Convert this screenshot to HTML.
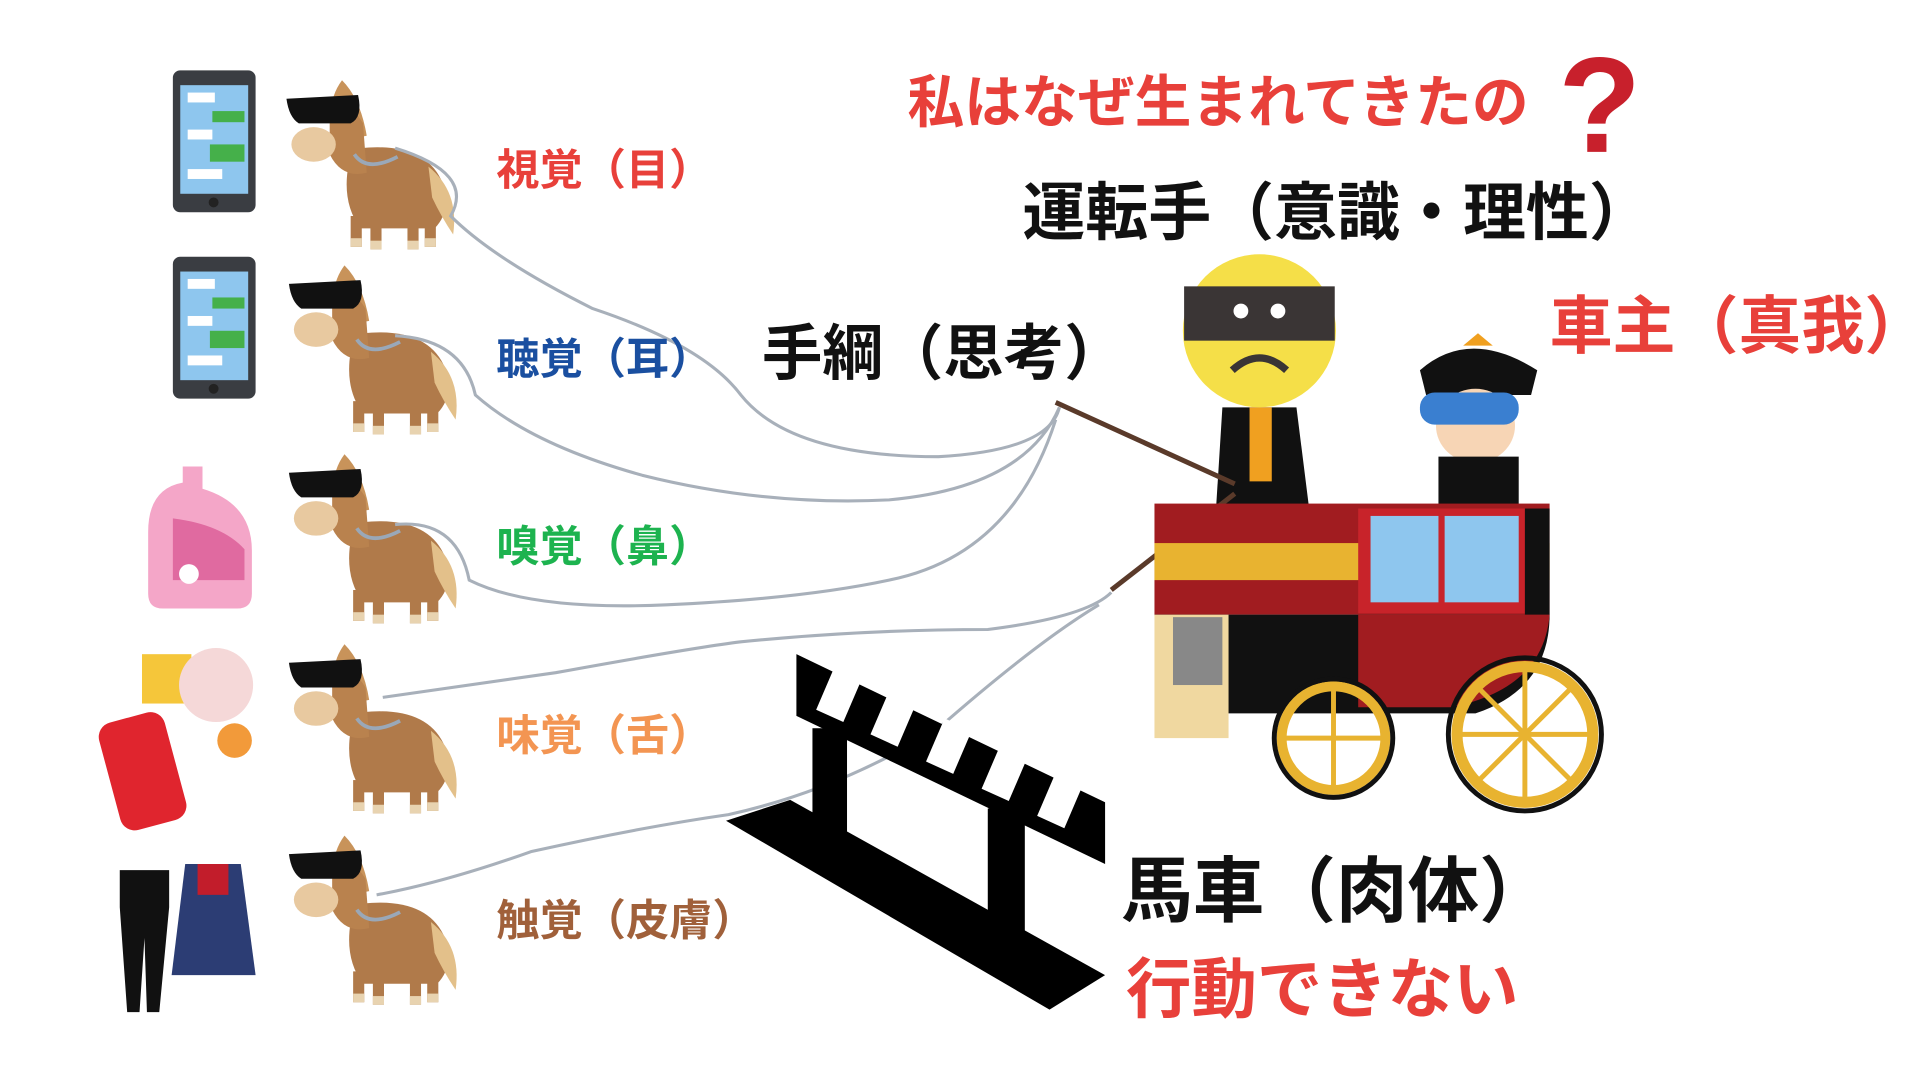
<!DOCTYPE html>
<html><head><meta charset="utf-8"><style>
html,body{margin:0;padding:0;background:#fff;width:1920px;height:1080px;overflow:hidden}
svg{display:block}
text{font-family:"Liberation Sans","Noto Sans CJK JP",sans-serif;font-weight:bold}
</style></head><body>
<svg width="1920" height="1080" viewBox="0 0 1555 875" preserveAspectRatio="none" xmlns="http://www.w3.org/2000/svg">
<defs>
<g id="horse">
 <path d="M40 50 Q30 20 45 0 Q60 15 65 45 Z" fill="#c8935a"/>
 <path d="M60 55 Q110 50 125 80 Q135 105 120 120 L60 120 Q45 100 50 70 Z" fill="#b07a4a"/>
 <path d="M115 70 Q140 90 135 125 Q125 110 118 95Z" fill="#e3c08a"/>
 <rect x="52" y="110" width="9" height="25" fill="#b07a4a"/><rect x="68" y="112" width="9" height="25" fill="#b07a4a"/>
 <rect x="98" y="112" width="9" height="25" fill="#b07a4a"/><rect x="112" y="110" width="9" height="25" fill="#b07a4a"/>
 <rect x="52" y="128" width="9" height="7" fill="#e8d3b0"/><rect x="68" y="130" width="9" height="7" fill="#e8d3b0"/>
 <rect x="98" y="130" width="9" height="7" fill="#e8d3b0"/><rect x="112" y="128" width="9" height="7" fill="#e8d3b0"/>
 <path d="M35 20 Q50 15 62 35 L65 75 Q45 80 35 60 Z" fill="#b9824e"/>
 <ellipse cx="22" cy="52" rx="18" ry="14" fill="#e8c9a0"/>
 <path d="M0 15 L58 12 Q62 30 52 35 L10 35 Q2 30 0 15Z" fill="#111"/>
 <path d="M55 60 Q65 75 90 62" fill="none" stroke="#9aa8b8" stroke-width="3"/>
</g>
<g id="phone">
 <rect x="0" y="0" width="67" height="115" rx="6" fill="#3a3d42"/>
 <rect x="6" y="12" width="55" height="88" fill="#8ec6ee"/>
 <rect x="12" y="18" width="22" height="8" fill="#fff"/><rect x="32" y="33" width="26" height="9" fill="#45b04a"/>
 <rect x="12" y="48" width="20" height="8" fill="#fff"/><rect x="30" y="60" width="28" height="14" fill="#45b04a"/>
 <rect x="12" y="80" width="28" height="8" fill="#fff"/>
 <circle cx="33" cy="107" r="4" fill="#222"/>
</g>
</defs>

<use href="#phone" x="140" y="57"/>
<use href="#phone" x="140" y="208"/>
<path d="M148 378 h16 v18 q40 12 40 50 v35 q0 12 -12 12 h-60 q-12 0 -12 -12 v-50 q0 -35 28 -40z" fill="#f4a6c8"/>
<path d="M140 420 q40 5 58 25 v25 h-58z" fill="#e06aa0"/><circle cx="153" cy="465" r="8" fill="#fff"/>
<rect x="115" y="530" width="40" height="40" fill="#f5c63a"/><circle cx="175" cy="555" r="30" fill="#f5d8d8"/>
<rect x="88" y="580" width="55" height="90" rx="12" fill="#e0252e" transform="rotate(-15 115 625)"/>
<circle cx="190" cy="600" r="14" fill="#f29a3a"/>
<path d="M97 705 h40 v30 l-8 85 h-10 l-2 -60 l-4 60 h-10 l-6 -85z" fill="#111"/>
<path d="M150 700 h45 l12 90 h-68z" fill="#2c3d74"/><rect x="160" y="700" width="25" height="25" fill="#c21d2b"/>

<use href="#horse" x="232" y="65"/>
<use href="#horse" x="234" y="215"/>
<use href="#horse" x="234" y="368"/>
<use href="#horse" x="234" y="522"/>
<use href="#horse" x="234" y="677"/>

<g fill="none" stroke="#a8b0ba" stroke-width="2.5">
<path d="M320 120 Q385 140 365 175 Q400 210 480 250 Q570 280 600 320 Q640 370 760 370 Q850 365 858 330"/>
<path d="M320 272 Q375 275 385 320 Q430 360 520 385 Q620 410 720 405 Q830 395 858 330"/>
<path d="M320 425 Q370 420 380 470 Q430 495 540 490 Q650 485 720 470 Q820 450 855 340"/>
<path d="M310 565 Q380 555 450 545 Q560 525 600 520 Q700 510 800 510 Q880 500 900 480"/>
<path d="M305 725 Q360 715 430 690 Q520 670 590 660 Q680 640 760 590 Q840 520 890 490"/>
</g>

<g fill="#000">
<path d="M588 665 L640 648 L895 790 L850 818 Z"/>
<path d="M645 530 L895 650 L895 700 L645 580 Z"/>
<rect x="658" y="590" width="28" height="110"/>
<rect x="800" y="655" width="30" height="120"/>
</g>
<g fill="#fff">
<path d="M676 540 l22 10 l-15 35 l-22 -10z"/><path d="M720 560 l22 10 l-15 35 l-22 -10z"/>
<path d="M765 582 l22 10 l-15 35 l-22 -10z"/><path d="M810 604 l22 10 l-15 35 l-22 -10z"/>
<path d="M855 626 l22 10 l-15 35 l-22 -10z"/>
</g>

<path d="M990 330 h60 l10 80 h-75z" fill="#111"/><rect x="1012" y="330" width="18" height="60" fill="#f0a020"/>
<circle cx="1020" cy="268" r="62" fill="#f5df48"/>
<rect x="959" y="232" width="122" height="44" fill="#3a3535"/>
<circle cx="1005" cy="252" r="6" fill="#fff"/><circle cx="1035" cy="252" r="6" fill="#fff"/>
<path d="M998 300 Q1020 280 1042 300" fill="none" stroke="#3a3535" stroke-width="6"/>
<line x1="855" y1="326" x2="1000" y2="392" stroke="#5a3a2a" stroke-width="4"/>
<line x1="900" y1="478" x2="1000" y2="400" stroke="#5a3a2a" stroke-width="4"/>
<path d="M1150 300 Q1190 265 1245 300 L1240 320 H1155Z" fill="#111"/><path d="M1185 280 l12 -10 l12 10z" fill="#f0a020"/>
<ellipse cx="1195" cy="345" rx="32" ry="30" fill="#f7d5b5"/>
<rect x="1150" y="318" width="80" height="26" rx="12" fill="#3a7fd0"/>
<path d="M1165 370 h65 v45 h-65z" fill="#111"/>
<rect x="935" y="408" width="320" height="90" fill="#a11c20"/>
<rect x="935" y="440" width="320" height="30" fill="#e8b330"/>
<rect x="1100" y="412" width="145" height="85" fill="#c8232a"/>
<rect x="1110" y="418" width="55" height="70" fill="#8ec6ee"/><rect x="1170" y="418" width="60" height="70" fill="#8ec6ee"/>
<rect x="1235" y="412" width="20" height="90" fill="#111"/>
<path d="M935 498 h320 q0 60 -60 80 h-200 q-60 -10 -60 -80z" fill="#111"/>
<path d="M1100 498 h155 q-5 60 -80 75 h-75z" fill="#a11c20"/>
<rect x="935" y="498" width="60" height="100" fill="#f0d8a0"/>
<circle cx="1080" cy="598" r="42" fill="none" stroke="#e8b330" stroke-width="8"/>
<circle cx="1080" cy="598" r="48" fill="none" stroke="#111" stroke-width="4"/>
<circle cx="1235" cy="595" r="55" fill="none" stroke="#e8b330" stroke-width="9"/>
<circle cx="1235" cy="595" r="62" fill="none" stroke="#111" stroke-width="4"/>
<g stroke="#e8b330" stroke-width="4">
<line x1="1080" y1="556" x2="1080" y2="640"/><line x1="1038" y1="598" x2="1122" y2="598"/>
<line x1="1235" y1="540" x2="1235" y2="650"/><line x1="1180" y1="595" x2="1290" y2="595"/>
<line x1="1196" y1="556" x2="1274" y2="634"/><line x1="1274" y1="556" x2="1196" y2="634"/>
</g>
<rect x="950" y="500" width="40" height="55" fill="#888"/>

<text x="735" y="99" font-size="46" fill="#e8403a">私はなぜ生まれてきたの</text>
<text x="1262" y="123" font-size="110" fill="#c8202c">?</text>
<text x="828" y="190" font-size="51" fill="#111">運転手（意識・理性）</text>
<text x="1255" y="282" font-size="51" fill="#e8403a">車主（真我）</text>
<text x="617" y="303" font-size="49" fill="#111">手綱（思考）</text>
<text x="402" y="150" font-size="35" fill="#e8403a">視覚（目）</text>
<text x="402" y="303" font-size="35" fill="#1a4fa0">聴覚（耳）</text>
<text x="402" y="455" font-size="35" fill="#1db34f">嗅覚（鼻）</text>
<text x="402" y="608" font-size="35" fill="#f39552">味覚（舌）</text>
<text x="402" y="758" font-size="35" fill="#a0603a">触覚（皮膚）</text>
<text x="908" y="742" font-size="58" fill="#111">馬車（肉体）</text>
<text x="912" y="820" font-size="53" fill="#e8403a">行動できない</text>
</svg>
</body></html>
